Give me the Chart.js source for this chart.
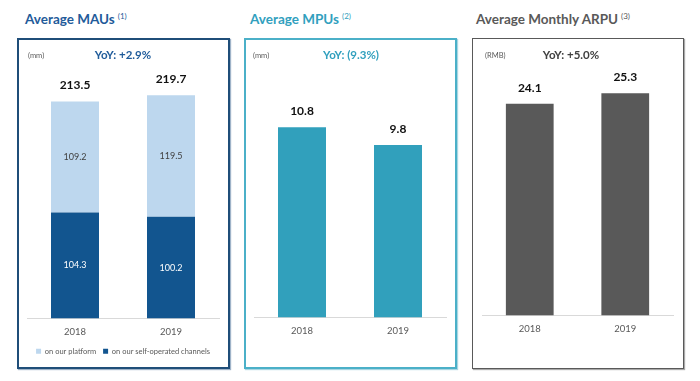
<!DOCTYPE html>
<html><head><meta charset="utf-8">
<script src="https://cdn.jsdelivr.net/npm/chart.js@4.4.1/dist/chart.umd.min.js"></script>
<style>
html,body{margin:0;padding:0;background:#fff;width:700px;height:381px;overflow:hidden;font-family:Lato,"Open Sans",sans-serif;}
.box{position:absolute;box-sizing:border-box;pointer-events:none;}
.title{position:absolute;font-weight:bold;font-size:13.5px;white-space:nowrap;}
.title sup{font-size:8px;font-weight:normal;vertical-align:5px;margin-left:3px;}
.unit{position:absolute;font-size:7.5px;color:#595959;}
.yoy{position:absolute;font-weight:bold;font-size:11.5px;transform:translateX(-50%);white-space:nowrap;}
canvas{position:absolute;}
</style></head>
<body>
<div class="title" style="left:25px;top:11px;color:#1f5b9a">Average MAUs<sup>(1)</sup></div>
<div class="title" style="left:250px;top:11px;color:#31a0be">Average MPUs<sup>(2)</sup></div>
<div class="title" style="left:476px;top:11px;color:#595959">Average Monthly ARPU<sup>(3)</sup></div>

<canvas id="c1" width="212" height="330" style="left:17px;top:38px"></canvas>
<canvas id="c2" width="212" height="330" style="left:244px;top:38px"></canvas>
<canvas id="c3" width="211" height="330" style="left:472px;top:38px"></canvas>

<div class="box" style="left:17px;top:38px;width:213px;height:331px;border:2px solid #1f4e79;box-shadow:1px 1px 1px #9fb3c8"></div>
<div class="box" style="left:244px;top:38px;width:213px;height:331px;border:2px solid #4bb0c8;box-shadow:1px 1px 1px #a9d6e2"></div>
<div class="box" style="left:472px;top:38px;width:212px;height:331px;border:1.5px solid #595959;box-shadow:1px 1px 1px #aaa"></div>

<div class="unit" style="left:28px;top:51px">(mm)</div>
<div class="unit" style="left:253px;top:51px">(mm)</div>
<div class="unit" style="left:485px;top:51px">(RMB)</div>
<div class="yoy" style="left:123px;top:48px;color:#1f5b9a">YoY: +2.9%</div>
<div class="yoy" style="left:351px;top:48px;color:#31a0be">YoY: (9.3%)</div>
<div class="yoy" style="left:571px;top:48px;color:#404040">YoY: +5.0%</div>

<script>
const years = ['2018', '2019'];
const mauSelfOperated = [104.3, 100.2];
const mauPlatform = [109.2, 119.5];
const mpu = [10.8, 9.8];
const arpu = [24.1, 25.3];

const FONT = 'Lato, "Open Sans", sans-serif';
Chart.defaults.font.family = FONT;
Chart.defaults.devicePixelRatio = 1;

const labelPlugin = {
  id: 'valueLabels',
  afterDatasetsDraw(chart, args, opts) {
    const ctx = chart.ctx;
    ctx.save();
    ctx.textAlign = 'center';
    ctx.textBaseline = 'middle';
    const n = chart.data.labels.length;
    if (opts.inside) {
      chart.data.datasets.forEach((ds, di) => {
        const meta = chart.getDatasetMeta(di);
        meta.data.forEach((bar, i) => {
          ctx.font = '9px ' + FONT;
          ctx.fillStyle = ds.labelColor;
          ctx.fillText(ds.data[i].toFixed(1), bar.x, (bar.y + bar.base) / 2);
        });
      });
    }
    for (let i = 0; i < n; i++) {
      let total = 0, topY = Infinity, x = 0;
      chart.data.datasets.forEach((ds, di) => {
        const bar = chart.getDatasetMeta(di).data[i];
        total += ds.data[i];
        if (bar.y < topY) { topY = bar.y; x = bar.x; }
      });
      ctx.font = 'bold 12px ' + FONT;
      ctx.fillStyle = '#111';
      ctx.fillText(total.toFixed(1), x, topY - 16);
    }
    ctx.restore();
  }
};

function xScale(fitHeight) {
  const s = {
    stacked: true,
    grid: { display: false, drawTicks: false },
    border: { display: true, color: '#d9d9d9', width: 1 },
    ticks: { color: '#595959', font: { size: 9.5 }, padding: 8 }
  };
  if (fitHeight) s.afterFit = (scale) => { scale.height = fitHeight; };
  return s;
}

function makeChart(id, datasets, yMax, padBottom, legend, inside, fitHeight) {
  return new Chart(document.getElementById(id), {
    type: 'bar',
    data: { labels: years, datasets },
    options: {
      responsive: false,
      animation: false,
      layout: { padding: { left: 10, right: 10, top: 32, bottom: padBottom } },
      datasets: { bar: { categoryPercentage: 1, barPercentage: 0.5 } },
      scales: {
        x: xScale(fitHeight),
        y: { stacked: true, display: false, min: 0, max: yMax }
      },
      plugins: {
        legend: legend,
        tooltip: { enabled: false },
        valueLabels: { inside }
      }
    },
    plugins: [labelPlugin]
  });
}

makeChart('c1', [
  { label: 'on our self-operated channels', data: mauSelfOperated, backgroundColor: '#12558f', labelColor: '#ffffff' },
  { label: 'on our platform', data: mauPlatform, backgroundColor: '#bdd7ee', labelColor: '#404040' }
], 244.6, 3, {
  display: true, position: 'bottom', reverse: true,
  labels: { boxWidth: 5, boxHeight: 5, padding: 7, color: '#595959', font: { size: 7.5 } }
}, true, 22);

makeChart('c2', [
  { label: 'MPUs', data: mpu, backgroundColor: '#31a0bc' }
], 14.05, 23, { display: false }, false);

makeChart('c3', [
  { label: 'ARPU', data: arpu, backgroundColor: '#595959' }
], 27.95, 25, { display: false }, false);
</script>
</body></html>
